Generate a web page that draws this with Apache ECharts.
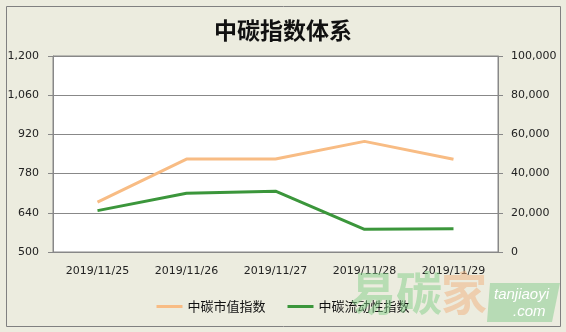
<!DOCTYPE html>
<html>
<head>
<meta charset="utf-8">
<script src="https://cdn.jsdelivr.net/npm/echarts@6/dist/echarts.min.js"></script>
<style>
html,body{margin:0;padding:0;background:#fff;}
#c{width:566px;height:332px;}
</style>
</head>
<body>
<div id="c"></div>
<script>
var categories = ['2019/11/25', '2019/11/26', '2019/11/27', '2019/11/28', '2019/11/29'];
var marketValueIndex = [678, 832, 832, 895, 831];
var liquidityIndex = [21100, 30000, 31000, 11600, 11900];
var leftTicks = {min: 500, max: 1200, interval: 140};
var rightTicks = {min: 0, max: 100000, interval: 20000};
var seriesNames = ['中碳市值指数', '中碳流动性指数'];
var titleText = '中碳指数体系';

var chart = echarts.init(document.getElementById('c'), null, {renderer: 'canvas'});
var labelFont = {color: '#222', fontSize: 11, fontFamily: 'DejaVu Sans'};
function fmt(v){ return v.toLocaleString('en-US'); }
chart.setOption({
  backgroundColor: '#ECECDF',
  animation: false,
  title: {
    text: titleText, left: 'center', top: 14,
    textStyle: {fontFamily: 'Noto Sans CJK SC', fontSize: 23, fontWeight: 'bold', color: '#111'}
  },
  legend: {
    bottom: 14, left: 'center', itemWidth: 26, itemHeight: 3, itemGap: 22,
    icon: 'rect',
    textStyle: {fontFamily: 'Noto Sans CJK SC', fontSize: 13, color: '#111'},
    data: seriesNames
  },
  grid: {left: 53, right: 68, top: 56, bottom: 80, show: true, backgroundColor: '#fff', borderColor: '#888', borderWidth: 1},
  xAxis: {
    type: 'category', data: categories, boundaryGap: true,
    axisLine: {lineStyle: {color: '#888'}}, axisTick: {show: false},
    axisLabel: Object.assign({margin: 14}, labelFont)
  },
  yAxis: [
    {type: 'value', min: leftTicks.min, max: leftTicks.max, interval: leftTicks.interval,
     axisLine: {show: true, lineStyle: {color: '#888'}},
     axisTick: {show: true, length: 5, lineStyle: {color: '#888'}},
     splitLine: {lineStyle: {color: '#888'}},
     axisLabel: Object.assign({margin: 14, formatter: fmt}, labelFont)},
    {type: 'value', min: rightTicks.min, max: rightTicks.max, interval: rightTicks.interval,
     axisLine: {show: true, lineStyle: {color: '#888'}},
     axisTick: {show: true, length: 5, lineStyle: {color: '#888'}},
     splitLine: {show: false},
     axisLabel: Object.assign({margin: 13, formatter: fmt}, labelFont)}
  ],
  series: [
    {name: seriesNames[0], type: 'line', yAxisIndex: 0, data: marketValueIndex,
     symbol: 'none', lineStyle: {width: 3, color: '#F8BC84'}, itemStyle: {color: '#F8BC84'}},
    {name: seriesNames[1], type: 'line', yAxisIndex: 1, data: liquidityIndex,
     symbol: 'none', lineStyle: {width: 3, color: '#3B963B'}, itemStyle: {color: '#3B963B'}}
  ],
  graphic: [
    {type: 'rect', shape: {x: 6.5, y: 6.5, width: 554, height: 320}, style: {fill: 'none', stroke: '#808080', lineWidth: 1}, silent: true},
    {type: 'text', left: 350, top: 270, style: {text: '易碳', font: 'bold 46px "Noto Sans CJK SC"', fill: 'rgba(130,205,135,0.5)'}, silent: true, z: 100},
    {type: 'text', left: 441, top: 270, style: {text: '家', font: 'bold 46px "Noto Sans CJK SC"', fill: 'rgba(240,175,125,0.5)'}, silent: true, z: 100},
    {type: 'polygon', shape: {points: [[490, 283], [560, 283], [552, 322], [487, 322]]}, style: {fill: 'rgba(140,205,145,0.55)'}, silent: true, z: 100},
    {type: 'text', left: 494, top: 287, style: {text: 'tanjiaoyi', font: 'italic 15px "Liberation Sans"', fill: '#fff'}, silent: true, z: 101},
    {type: 'text', left: 513, top: 304, style: {text: '.com', font: 'italic 15px "Liberation Sans"', fill: '#fff'}, silent: true, z: 101}
  ]
});
</script>
</body>
</html>
